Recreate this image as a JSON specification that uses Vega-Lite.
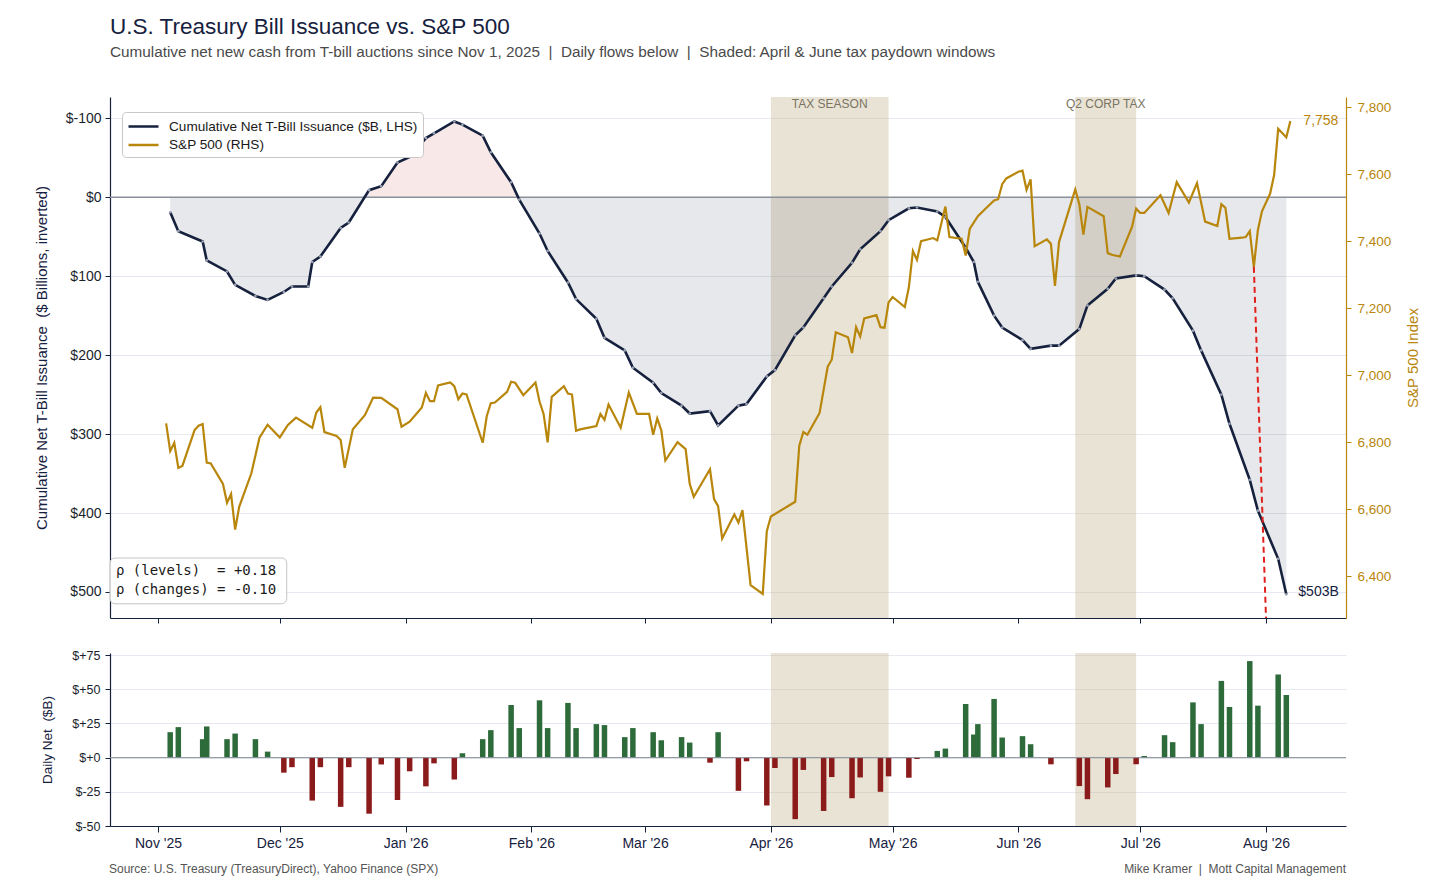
{
  "$schema": "https://vega.github.io/schema/vega-lite/v6.json",
  "background": "white",
  "padding": {"left": 34, "top": 16, "right": 10, "bottom": 5},
  "config": {
    "font": "Liberation Sans",
    "view": {"stroke": null},
    "axis": {"labelFont": "Liberation Sans", "titleFont": "Liberation Sans", "titleFontWeight": "normal", "domainWidth": 1.2, "domainColor": "#16213e", "tickColor": "#16213e", "labelColor": "#1a1f2e", "titleColor": "#16213e", "gridColor": "#e6e9ef", "labelOverlap": false},
    "legend": {"labelFont": "Liberation Sans"}
  },
  "title": {
    "text": "U.S. Treasury Bill Issuance vs. S&P 500",
    "subtitle": "Cumulative net new cash from T-bill auctions since Nov 1, 2025\u00a0\u00a0|\u00a0\u00a0Daily flows below\u00a0\u00a0|\u00a0\u00a0Shaded: April & June tax paydown windows",
    "anchor": "start",
    "frame": "group",
    "fontSize": 22.5,
    "fontWeight": "normal",
    "color": "#16213e",
    "font": "Liberation Sans",
    "subtitleFont": "Liberation Sans",
    "subtitleFontSize": 15.3,
    "subtitleColor": "#4a4a4a",
    "subtitlePadding": 6,
    "offset": 37
  },
  "datasets": {
    "windows": [
      {"start": "2026-04-01", "end": "2026-04-30", "label": "TAX SEASON"},
      {"start": "2026-06-15", "end": "2026-06-30", "label": "Q2 CORP TAX"}
    ],
    "marker": [
      {"date": "2026-07-29", "sp": 7323},
      {"date": "2026-08-01", "sp": 6275}
    ],
    "cum": [
      {"date":"2025-11-04","cum":19},{"date":"2025-11-06","cum":43},{"date":"2025-11-12","cum":56},{"date":"2025-11-13","cum":80},
      {"date":"2025-11-18","cum":94},{"date":"2025-11-20","cum":111},{"date":"2025-11-25","cum":125},{"date":"2025-11-28","cum":130},
      {"date":"2025-12-02","cum":120},{"date":"2025-12-04","cum":113},{"date":"2025-12-08","cum":113},{"date":"2025-12-09","cum":82},
      {"date":"2025-12-11","cum":75},{"date":"2025-12-16","cum":39},{"date":"2025-12-18","cum":32},{"date":"2025-12-23","cum":-9},
      {"date":"2025-12-26","cum":-14},{"date":"2025-12-30","cum":-44},{"date":"2026-01-02","cum":-51},{"date":"2026-01-06","cum":-75},
      {"date":"2026-01-08","cum":-81},{"date":"2026-01-13","cum":-96},{"date":"2026-01-15","cum":-92},{"date":"2026-01-20","cum":-78},
      {"date":"2026-01-22","cum":-57},{"date":"2026-01-27","cum":-19},{"date":"2026-01-29","cum":3},{"date":"2026-02-03","cum":46},
      {"date":"2026-02-05","cum":68},{"date":"2026-02-10","cum":108},{"date":"2026-02-12","cum":129},{"date":"2026-02-17","cum":154},
      {"date":"2026-02-19","cum":178},{"date":"2026-02-24","cum":194},{"date":"2026-02-26","cum":216},{"date":"2026-03-03","cum":235},
      {"date":"2026-03-05","cum":248},{"date":"2026-03-10","cum":264},{"date":"2026-03-12","cum":274},{"date":"2026-03-17","cum":271},
      {"date":"2026-03-19","cum":289},{"date":"2026-03-24","cum":264},{"date":"2026-03-26","cum":262},{"date":"2026-03-31","cum":227},
      {"date":"2026-04-02","cum":219},{"date":"2026-04-07","cum":175},{"date":"2026-04-09","cum":165},{"date":"2026-04-14","cum":128},
      {"date":"2026-04-16","cum":113},{"date":"2026-04-21","cum":83},{"date":"2026-04-23","cum":66},{"date":"2026-04-28","cum":43},
      {"date":"2026-04-30","cum":29},{"date":"2026-05-05","cum":14},{"date":"2026-05-07","cum":13},{"date":"2026-05-12","cum":18},
      {"date":"2026-05-14","cum":25},{"date":"2026-05-19","cum":64},{"date":"2026-05-21","cum":82},{"date":"2026-05-22","cum":107},
      {"date":"2026-05-26","cum":150},{"date":"2026-05-28","cum":165},{"date":"2026-06-02","cum":181},{"date":"2026-06-04","cum":192},
      {"date":"2026-06-09","cum":188},{"date":"2026-06-11","cum":188},{"date":"2026-06-16","cum":167},{"date":"2026-06-18","cum":137},
      {"date":"2026-06-23","cum":116},{"date":"2026-06-25","cum":103},{"date":"2026-06-30","cum":99},{"date":"2026-07-02","cum":100},
      {"date":"2026-07-07","cum":117},{"date":"2026-07-09","cum":128},{"date":"2026-07-14","cum":169},{"date":"2026-07-16","cum":194},
      {"date":"2026-07-21","cum":250},{"date":"2026-07-23","cum":287},{"date":"2026-07-28","cum":358},{"date":"2026-07-30","cum":397},
      {"date":"2026-08-04","cum":458},{"date":"2026-08-06","cum":503}
    ],
    "daily": [
      {"date":"2025-11-04","v":18.6},{"date":"2025-11-06","v":22.3},{"date":"2025-11-12","v":13.5},{"date":"2025-11-13","v":22.8},
      {"date":"2025-11-18","v":13.5},{"date":"2025-11-20","v":17.6},{"date":"2025-11-25","v":13.5},{"date":"2025-11-28","v":4.4},
      {"date":"2025-12-02","v":-11},{"date":"2025-12-04","v":-7},{"date":"2025-12-09","v":-31.4},{"date":"2025-12-11","v":-7},
      {"date":"2025-12-16","v":-36},{"date":"2025-12-18","v":-7},{"date":"2025-12-23","v":-41},{"date":"2025-12-26","v":-5},
      {"date":"2025-12-30","v":-31},{"date":"2026-01-02","v":-10},{"date":"2026-01-06","v":-21},{"date":"2026-01-08","v":-4.2},
      {"date":"2026-01-13","v":-16},{"date":"2026-01-15","v":3.2},{"date":"2026-01-20","v":13.5},{"date":"2026-01-22","v":20.1},
      {"date":"2026-01-27","v":38.5},{"date":"2026-01-29","v":21.6},{"date":"2026-02-03","v":41.9},{"date":"2026-02-05","v":21.6},
      {"date":"2026-02-10","v":40},{"date":"2026-02-12","v":21.6},{"date":"2026-02-17","v":24.5},{"date":"2026-02-19","v":23.8},
      {"date":"2026-02-24","v":15},{"date":"2026-02-26","v":21.6},{"date":"2026-03-03","v":18.6},{"date":"2026-03-05","v":12.7},
      {"date":"2026-03-10","v":15},{"date":"2026-03-12","v":11},{"date":"2026-03-17","v":-3.7},{"date":"2026-03-19","v":18.6},
      {"date":"2026-03-24","v":-24.3},{"date":"2026-03-26","v":-2.7},{"date":"2026-03-31","v":-35},{"date":"2026-04-02","v":-7.6},
      {"date":"2026-04-07","v":-45},{"date":"2026-04-09","v":-9},{"date":"2026-04-14","v":-39},{"date":"2026-04-16","v":-14.2},
      {"date":"2026-04-21","v":-29.7},{"date":"2026-04-23","v":-14.5},{"date":"2026-04-28","v":-25},{"date":"2026-04-30","v":-13.7},
      {"date":"2026-05-05","v":-14.7},{"date":"2026-05-07","v":-1},{"date":"2026-05-12","v":4.9},{"date":"2026-05-14","v":6.6},
      {"date":"2026-05-19","v":39.2},{"date":"2026-05-21","v":16.9},{"date":"2026-05-22","v":24.5},{"date":"2026-05-26","v":42.9},
      {"date":"2026-05-28","v":14.7},{"date":"2026-06-02","v":15.7},{"date":"2026-06-04","v":9.8},{"date":"2026-06-09","v":-4.9},
      {"date":"2026-06-16","v":-20.8},{"date":"2026-06-18","v":-30.4},{"date":"2026-06-23","v":-21.8},{"date":"2026-06-25","v":-12},
      {"date":"2026-06-30","v":-4.9},{"date":"2026-07-02","v":1.2},{"date":"2026-07-07","v":16.4},{"date":"2026-07-09","v":11.3},
      {"date":"2026-07-14","v":40.4},{"date":"2026-07-16","v":24.5},{"date":"2026-07-21","v":56.1},{"date":"2026-07-23","v":37},
      {"date":"2026-07-28","v":70.6},{"date":"2026-07-30","v":38},{"date":"2026-08-04","v":60.8},{"date":"2026-08-06","v":45.8}
    ],
    "spx": [
      {"date":"2025-11-03","sp":6856},{"date":"2025-11-04","sp":6773},{"date":"2025-11-05","sp":6798},{"date":"2025-11-06","sp":6723},
      {"date":"2025-11-07","sp":6729},{"date":"2025-11-10","sp":6836},{"date":"2025-11-11","sp":6849},{"date":"2025-11-12","sp":6854},
      {"date":"2025-11-13","sp":6739},{"date":"2025-11-14","sp":6736},{"date":"2025-11-17","sp":6675},{"date":"2025-11-18","sp":6619},
      {"date":"2025-11-19","sp":6645},{"date":"2025-11-20","sp":6539},{"date":"2025-11-21","sp":6607},{"date":"2025-11-24","sp":6707},
      {"date":"2025-11-26","sp":6813},{"date":"2025-11-28","sp":6852},{"date":"2025-12-01","sp":6814},{"date":"2025-12-03","sp":6851},
      {"date":"2025-12-05","sp":6873},{"date":"2025-12-09","sp":6843},{"date":"2025-12-10","sp":6888},{"date":"2025-12-11","sp":6904},
      {"date":"2025-12-12","sp":6830},{"date":"2025-12-15","sp":6818},{"date":"2025-12-16","sp":6806},{"date":"2025-12-17","sp":6723},
      {"date":"2025-12-19","sp":6838},{"date":"2025-12-22","sp":6881},{"date":"2025-12-24","sp":6933},{"date":"2025-12-26","sp":6932},
      {"date":"2025-12-30","sp":6898},{"date":"2025-12-31","sp":6846},{"date":"2026-01-02","sp":6861},{"date":"2026-01-05","sp":6903},
      {"date":"2026-01-06","sp":6947},{"date":"2026-01-07","sp":6922},{"date":"2026-01-08","sp":6922},{"date":"2026-01-09","sp":6969},
      {"date":"2026-01-12","sp":6978},{"date":"2026-01-13","sp":6967},{"date":"2026-01-14","sp":6928},{"date":"2026-01-15","sp":6945},
      {"date":"2026-01-16","sp":6942},{"date":"2026-01-20","sp":6798},{"date":"2026-01-21","sp":6878},{"date":"2026-01-22","sp":6916},
      {"date":"2026-01-23","sp":6918},{"date":"2026-01-26","sp":6950},{"date":"2026-01-27","sp":6980},{"date":"2026-01-28","sp":6977},
      {"date":"2026-01-30","sp":6940},{"date":"2026-02-02","sp":6978},{"date":"2026-02-03","sp":6921},{"date":"2026-02-04","sp":6884},
      {"date":"2026-02-05","sp":6799},{"date":"2026-02-06","sp":6935},{"date":"2026-02-09","sp":6967},{"date":"2026-02-10","sp":6945},
      {"date":"2026-02-11","sp":6942},{"date":"2026-02-12","sp":6834},{"date":"2026-02-13","sp":6838},{"date":"2026-02-17","sp":6848},
      {"date":"2026-02-18","sp":6884},{"date":"2026-02-19","sp":6866},{"date":"2026-02-20","sp":6912},{"date":"2026-02-23","sp":6843},
      {"date":"2026-02-25","sp":6948},{"date":"2026-02-27","sp":6884},{"date":"2026-03-02","sp":6884},{"date":"2026-03-03","sp":6822},
      {"date":"2026-03-04","sp":6871},{"date":"2026-03-05","sp":6835},{"date":"2026-03-06","sp":6745},{"date":"2026-03-09","sp":6800},
      {"date":"2026-03-11","sp":6779},{"date":"2026-03-12","sp":6676},{"date":"2026-03-13","sp":6637},{"date":"2026-03-17","sp":6719},
      {"date":"2026-03-18","sp":6630},{"date":"2026-03-19","sp":6609},{"date":"2026-03-20","sp":6512},{"date":"2026-03-23","sp":6584},
      {"date":"2026-03-24","sp":6560},{"date":"2026-03-25","sp":6597},{"date":"2026-03-27","sp":6373},{"date":"2026-03-30","sp":6347},
      {"date":"2026-03-31","sp":6534},{"date":"2026-04-01","sp":6578},{"date":"2026-04-07","sp":6622},{"date":"2026-04-08","sp":6789},
      {"date":"2026-04-09","sp":6830},{"date":"2026-04-10","sp":6822},{"date":"2026-04-13","sp":6887},{"date":"2026-04-15","sp":7025},
      {"date":"2026-04-16","sp":7046},{"date":"2026-04-17","sp":7128},{"date":"2026-04-20","sp":7113},{"date":"2026-04-21","sp":7066},
      {"date":"2026-04-22","sp":7143},{"date":"2026-04-23","sp":7115},{"date":"2026-04-24","sp":7169},{"date":"2026-04-27","sp":7179},
      {"date":"2026-04-28","sp":7143},{"date":"2026-04-29","sp":7141},{"date":"2026-04-30","sp":7217},{"date":"2026-05-01","sp":7233},
      {"date":"2026-05-04","sp":7203},{"date":"2026-05-05","sp":7262},{"date":"2026-05-06","sp":7370},{"date":"2026-05-07","sp":7344},
      {"date":"2026-05-08","sp":7400},{"date":"2026-05-11","sp":7409},{"date":"2026-05-12","sp":7402},{"date":"2026-05-14","sp":7503},
      {"date":"2026-05-15","sp":7412},{"date":"2026-05-18","sp":7407},{"date":"2026-05-19","sp":7357},{"date":"2026-05-20","sp":7436},
      {"date":"2026-05-22","sp":7474},{"date":"2026-05-24","sp":7498},{"date":"2026-05-26","sp":7521},{"date":"2026-05-27","sp":7525},
      {"date":"2026-05-28","sp":7570},{"date":"2026-05-29","sp":7587},{"date":"2026-06-01","sp":7607},{"date":"2026-06-02","sp":7610},
      {"date":"2026-06-03","sp":7553},{"date":"2026-06-04","sp":7584},{"date":"2026-06-05","sp":7385},{"date":"2026-06-08","sp":7405},
      {"date":"2026-06-09","sp":7392},{"date":"2026-06-10","sp":7266},{"date":"2026-06-11","sp":7397},{"date":"2026-06-15","sp":7554},
      {"date":"2026-06-16","sp":7510},{"date":"2026-06-17","sp":7419},{"date":"2026-06-18","sp":7502},{"date":"2026-06-22","sp":7474},
      {"date":"2026-06-23","sp":7364},{"date":"2026-06-24","sp":7359},{"date":"2026-06-26","sp":7354},{"date":"2026-06-29","sp":7443},
      {"date":"2026-06-30","sp":7497},{"date":"2026-07-01","sp":7484},{"date":"2026-07-02","sp":7484},{"date":"2026-07-06","sp":7537},
      {"date":"2026-07-08","sp":7484},{"date":"2026-07-10","sp":7576},{"date":"2026-07-13","sp":7515},{"date":"2026-07-15","sp":7573},
      {"date":"2026-07-17","sp":7458},{"date":"2026-07-20","sp":7445},{"date":"2026-07-21","sp":7510},{"date":"2026-07-22","sp":7499},
      {"date":"2026-07-23","sp":7407},{"date":"2026-07-26","sp":7410},{"date":"2026-07-27","sp":7412},{"date":"2026-07-28","sp":7430},
      {"date":"2026-07-29","sp":7323},{"date":"2026-07-30","sp":7433},{"date":"2026-07-31","sp":7489},{"date":"2026-08-02","sp":7541},
      {"date":"2026-08-03","sp":7597},{"date":"2026-08-04","sp":7735},{"date":"2026-08-06","sp":7710},{"date":"2026-08-07","sp":7758}
    ]
  },
  "spacing": 35,
  "bounds": "flush",
  "resolve": {"scale": {"color": "independent"}, "legend": {"color": "independent"}},
  "vconcat": [
    {
      "width": 1236,
      "height": 521,
      "layer": [
        {
          "layer": [
            {
              "data": {"name": "windows"},
              "mark": {"type": "rect", "fill": "#c8b998", "fillOpacity": 0.4},
              "encoding": {
                "x": {"field": "start", "type": "temporal",
                      "scale": {"domain": [{"year": 2025, "month": 10, "date": 20, "hours": 4}, {"year": 2026, "month": 8, "date": 20, "hours": 17}], "nice": false, "padding": 0},
                      "axis": {"title": null, "labels": false, "grid": false, "tickSize": 5, "tickCount": {"interval": "month", "step": 1}}},
                "x2": {"field": "end"}
              }
            },
            {
              "data": {"name": "cum"},
              "transform": [{"filter": "time(datum.date) <= time('2025-12-23')"}],
              "mark": {"type": "area", "fill": "#16213e", "fillOpacity": 0.1},
              "encoding": {
                "x": {"field": "date", "type": "temporal"},
                "y": {"field": "cum", "type": "quantitative",
                      "scale": {"domain": [-127, 533], "reverse": true, "nice": false, "zero": false},
                      "axis": {"title": "Cumulative Net T-Bill Issuance\u00a0\u00a0($ Billions, inverted)", "values": [-100, 0, 100, 200, 300, 400, 500], "labelExpr": "'$' + datum.value", "grid": true, "tickSize": 5, "labelPadding": 4, "labelFontSize": 14, "titleFontSize": 15, "minExtent": 52, "maxExtent": 52, "titlePadding": 9}},
                "y2": {"datum": 0}
              }
            },
            {
              "data": {"name": "cum"},
              "transform": [{"filter": "time(datum.date) >= time('2025-12-23') && time(datum.date) <= time('2026-01-29')"}],
              "mark": {"type": "area", "fill": "#c0392b", "fillOpacity": 0.11},
              "encoding": {
                "x": {"field": "date", "type": "temporal"},
                "y": {"field": "cum", "type": "quantitative"},
                "y2": {"datum": 0}
              }
            },
            {
              "data": {"name": "cum"},
              "transform": [{"filter": "time(datum.date) >= time('2026-01-29')"}],
              "mark": {"type": "area", "fill": "#16213e", "fillOpacity": 0.1},
              "encoding": {
                "x": {"field": "date", "type": "temporal"},
                "y": {"field": "cum", "type": "quantitative"},
                "y2": {"datum": 0}
              }
            },
            {
              "data": {"values": [{}]},
              "mark": {"type": "rule", "color": "#8a8f99", "strokeWidth": 1.3},
              "encoding": {"y": {"datum": 0}}
            },
            {
              "data": {"name": "cum"},
              "mark": {"type": "line", "strokeWidth": 2.6},
              "encoding": {
                "x": {"field": "date", "type": "temporal"},
                "y": {"field": "cum", "type": "quantitative"},
                "color": {"datum": "Cumulative Net T-Bill Issuance ($B, LHS)", "type": "nominal",
                          "scale": {"domain": ["Cumulative Net T-Bill Issuance ($B, LHS)", "S&P 500 (RHS)"], "range": ["#16213e", "#b8860b"]},
                          "legend": {"title": null, "orient": "none", "legendX": 12, "legendY": 15, "padding": 5, "fillColor": "white", "strokeColor": "#c8c8c8", "cornerRadius": 4, "labelFontSize": 13.6, "labelColor": "#1a1a1a", "symbolType": "M-1,0H2.75", "symbolStrokeWidth": 2.5, "symbolSize": 256, "labelOffset": 23, "rowPadding": 1.5, "labelLimit": 400}}
              }
            },
            {
              "data": {"name": "cum"},
              "mark": {"type": "point", "filled": true, "size": 7, "color": "#9aa2b3", "opacity": 1},
              "encoding": {
                "x": {"field": "date", "type": "temporal"},
                "y": {"field": "cum", "type": "quantitative"}
              }
            },
            {
              "data": {"name": "cum"},
              "transform": [{"filter": "time(datum.date) == time('2026-08-06')"}],
              "mark": {"type": "text", "align": "left", "baseline": "middle", "dx": 12, "dy": -2, "fontSize": 14, "color": "#16213e", "text": "$503B"},
              "encoding": {
                "x": {"field": "date", "type": "temporal"},
                "y": {"field": "cum", "type": "quantitative"}
              }
            },
            {
              "data": {"name": "windows"},
              "transform": [{"calculate": "(time(datum.start) + time(datum.end)) / 2", "as": "mid"}],
              "mark": {"type": "text", "align": "center", "baseline": "middle", "fontSize": 12, "color": "#7a7462"},
              "encoding": {
                "x": {"field": "mid", "type": "temporal"},
                "y": {"datum": -118},
                "text": {"field": "label"}
              }
            },
            {
              "data": {"values": [{}]},
              "mark": {"type": "rect", "fill": "white", "fillOpacity": 0.9, "stroke": "#c4c4c4", "strokeWidth": 1, "cornerRadius": 5},
              "encoding": {
                "x": {"datum": {"year": 2025, "month": 10, "date": 20, "hours": 4}, "type": "temporal"},
                "x2": {"datum": {"year": 2025, "month": 12, "date": 2, "hours": 17}},
                "y": {"datum": 457},
                "y2": {"datum": 515}
              }
            },
            {
              "data": {"values": [{}]},
              "mark": {"type": "text", "align": "left", "baseline": "middle", "font": "DejaVu Sans Mono", "fontSize": 14, "lineHeight": 19, "color": "#1a1a1a", "text": ["ρ (levels)\u00a0\u00a0= +0.18", "ρ (changes) = -0.10"]},
              "encoding": {
                "x": {"datum": {"year": 2025, "month": 10, "date": 21, "hours": 15}, "type": "temporal"},
                "y": {"datum": 473.5}
              }
            }
          ]
        },
        {
          "layer": [
            {
              "data": {"name": "spx"},
              "mark": {"type": "line", "strokeWidth": 2.2},
              "encoding": {
                "x": {"field": "date", "type": "temporal"},
                "y": {"field": "sp", "type": "quantitative",
                      "scale": {"domain": [6275, 7830], "nice": false, "zero": false},
                      "axis": {"orient": "right", "title": "S&P 500 Index", "titleAngle": -90, "titleBaseline": "top", "values": [6400, 6600, 6800, 7000, 7200, 7400, 7600, 7800], "format": ",.0f", "grid": false, "domainColor": "#b8860b", "tickColor": "#b8860b", "labelColor": "#b8860b", "titleColor": "#b8860b", "tickSize": 5, "labelPadding": 6, "minExtent": 49, "maxExtent": 49, "titlePadding": 10, "labelFontSize": 13.5, "titleFontSize": 15}},
                "color": {"datum": "S&P 500 (RHS)", "type": "nominal"}
              }
            },
            {
              "data": {"name": "marker"},
              "mark": {"type": "line", "color": "#e0201b", "strokeDash": [6, 4], "strokeWidth": 2},
              "encoding": {
                "x": {"field": "date", "type": "temporal"},
                "y": {"field": "sp", "type": "quantitative"}
              }
            },
            {
              "data": {"name": "spx"},
              "transform": [{"filter": "time(datum.date) == time('2026-08-07')"}],
              "mark": {"type": "text", "align": "left", "baseline": "middle", "dx": 13, "fontSize": 14, "color": "#b8860b"},
              "encoding": {
                "x": {"field": "date", "type": "temporal"},
                "y": {"field": "sp", "type": "quantitative"},
                "text": {"field": "sp", "type": "quantitative", "format": ",.0f"}
              }
            }
          ]
        }
      ],
      "resolve": {"scale": {"y": "independent"}, "axis": {"y": "independent"}}
    },
    {
      "width": 1236,
      "height": 173,
      "layer": [
        {
          "data": {"name": "windows"},
          "mark": {"type": "rect", "fill": "#c8b998", "fillOpacity": 0.4},
          "encoding": {
            "x": {"field": "start", "type": "temporal",
                  "scale": {"domain": [{"year": 2025, "month": 10, "date": 20, "hours": 4}, {"year": 2026, "month": 8, "date": 20, "hours": 17}], "nice": false, "padding": 0},
                  "axis": {"title": null, "format": "%b '%y", "tickCount": {"interval": "month", "step": 1}, "tickSize": 6, "labelPadding": 4, "labelFontSize": 14, "grid": false, "labelColor": "#16213e"}},
            "x2": {"field": "end"}
          }
        },
        {
          "data": {"name": "daily"},
          "mark": {"type": "bar", "width": 5.5},
          "encoding": {
            "x": {"field": "date", "type": "temporal"},
            "y": {"field": "v", "type": "quantitative",
                  "scale": {"domain": [-50, 76.5], "nice": false, "zero": false, "padding": 0},
                  "axis": {"title": "Daily Net\u00a0\u00a0($B)", "values": [-50, -25, 0, 25, 50, 75], "tickCount": 6, "labelExpr": "datum.value >= 0 ? '$+' + datum.value : '$' + datum.value", "grid": true, "tickSize": 5, "labelPadding": 5, "labelFontSize": 12.5, "titleFontSize": 13.5, "minExtent": 47, "maxExtent": 47, "titlePadding": 9, "labelOverlap": false}},
            "y2": {"datum": 0},
            "color": {"condition": {"test": "datum.v >= 0", "value": "#2e6b3b"}, "value": "#8b1a1a"}
          }
        },
        {
          "data": {"values": [{}]},
          "mark": {"type": "rule", "color": "#8a8f99", "strokeWidth": 1},
          "encoding": {"y": {"datum": 0, "type": "quantitative",
                "axis": {"title": "Daily Net\u00a0\u00a0($B)", "values": [-50, -25, 0, 25, 50, 75], "tickCount": 6, "labelExpr": "datum.value >= 0 ? '$+' + datum.value : '$' + datum.value", "grid": true, "tickSize": 5, "labelPadding": 5, "labelFontSize": 12.5, "titleFontSize": 13.5, "minExtent": 47, "maxExtent": 47, "titlePadding": 9, "labelOverlap": false}}}
        },
        {
          "data": {"values": [{}]},
          "mark": {"type": "text", "align": "left", "baseline": "middle", "dx": -1, "dy": 43, "fontSize": 12, "color": "#555555", "text": "Source: U.S. Treasury (TreasuryDirect), Yahoo Finance (SPX)"},
          "encoding": {
            "x": {"datum": {"year": 2025, "month": 10, "date": 20, "hours": 4}, "type": "temporal"},
            "y": {"datum": -50, "type": "quantitative",
                  "axis": {"title": "Daily Net\u00a0\u00a0($B)", "values": [-50, -25, 0, 25, 50, 75], "tickCount": 6, "labelExpr": "datum.value >= 0 ? '$+' + datum.value : '$' + datum.value", "grid": true, "tickSize": 5, "labelPadding": 5, "labelFontSize": 12.5, "titleFontSize": 13.5, "minExtent": 47, "maxExtent": 47, "titlePadding": 9, "labelOverlap": false}}
          }
        },
        {
          "data": {"values": [{}]},
          "mark": {"type": "text", "align": "right", "baseline": "middle", "dy": 43, "fontSize": 12, "color": "#555555", "text": "Mike Kramer\u00a0\u00a0|\u00a0\u00a0Mott Capital Management"},
          "encoding": {
            "x": {"datum": {"year": 2026, "month": 8, "date": 20, "hours": 17}, "type": "temporal"},
            "y": {"datum": -50, "type": "quantitative",
                  "axis": {"title": "Daily Net\u00a0\u00a0($B)", "values": [-50, -25, 0, 25, 50, 75], "tickCount": 6, "labelExpr": "datum.value >= 0 ? '$+' + datum.value : '$' + datum.value", "grid": true, "tickSize": 5, "labelPadding": 5, "labelFontSize": 12.5, "titleFontSize": 13.5, "minExtent": 47, "maxExtent": 47, "titlePadding": 9, "labelOverlap": false}}
          }
        }
      ]
    }
  ]
}
